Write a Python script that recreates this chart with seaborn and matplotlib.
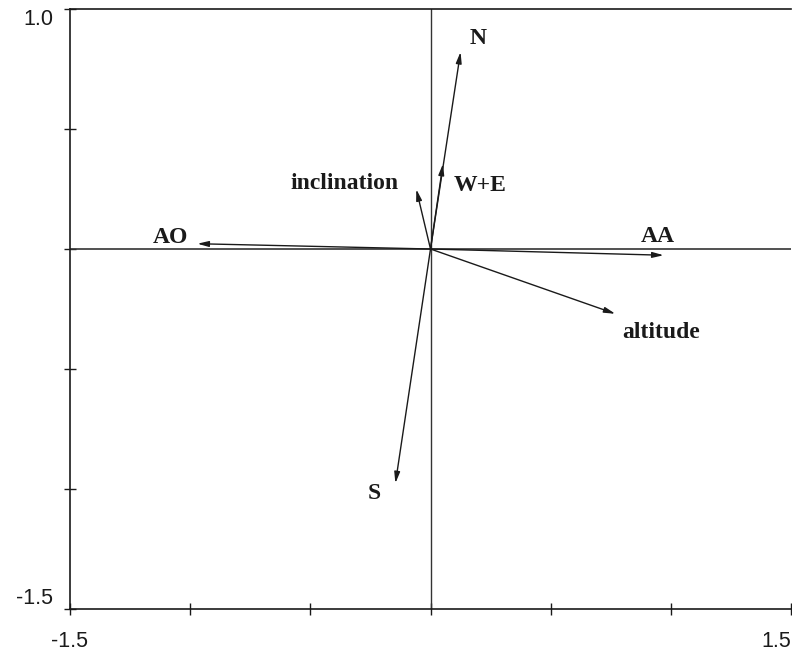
import matplotlib
matplotlib.use('Agg')
import matplotlib.pyplot as plt
import seaborn as sns

# biplot vectors (arrow tips) and where their labels sit
names = ['N', 'W+E', 'inclination', 'AO', 'AA', 'altitude', 'S']
vec_x = [0.125, 0.052, -0.059, -0.970, 0.970, 0.769, -0.146]
vec_y = [0.821, 0.355, 0.249, 0.022, -0.026, -0.270, -0.976]
lab_x = [0.20, 0.208, -0.357, -1.08, 0.946, 0.96, -0.235]
lab_y = [0.877, 0.264, 0.272, 0.047, 0.05, -0.35, -1.017]

x_ticks = [-1.5, -1.0, -0.5, 0.0, 0.5, 1.0, 1.5]
y_ticks = [-1.5, -1.0, -0.5, 0.0, 0.5, 1.0]

sns.set_theme(style='white')
plt.rcParams['font.family'] = ['Liberation Sans', 'DejaVu Sans']

fig = plt.figure(figsize=(7.92, 6.55), dpi=100)
ax = fig.add_axes([70 / 792, 1 - 609 / 655, 721 / 792, 600 / 655])

ax.set_xlim(-1.5, 1.5)
ax.set_ylim(-1.5, 1.0)

# cross through the origin
ax.axhline(0, color='#333333', lw=1.2, zorder=1)
ax.axvline(0, color='#333333', lw=1.0, zorder=1)

for name, x, y, lx, ly in zip(names, vec_x, vec_y, lab_x, lab_y):
    ax.annotate('', xy=(x, y), xytext=(0, 0),
                arrowprops=dict(arrowstyle='-|>,head_length=0.55,head_width=0.14',
                                color='#1a1a1a', lw=1.0, shrinkA=0, shrinkB=0))
    ax.text(lx, ly, name, ha='center', va='center', fontsize=17, fontweight='bold',
            family=['Liberation Serif', 'DejaVu Serif'], color='#1a1a1a')

ax.set_xticks(x_ticks)
ax.set_xticklabels(['-1.5', '', '', '', '', '', '1.5'])
ax.set_yticks(y_ticks)
ax.set_yticklabels(['-1.5', '', '', '', '', '1.0'])
xl = ax.get_xticklabels()
xl[-1].set_horizontalalignment('right')
yl = ax.get_yticklabels()
yl[0].set_verticalalignment('bottom')
yl[-1].set_verticalalignment('top')

ax.tick_params(axis='both', direction='inout', length=8, width=1, color='#1a1a1a',
               labelsize=15.5, labelcolor='#1a1a1a', bottom=True, left=True)
ax.tick_params(axis='x', pad=12)
ax.tick_params(axis='y', pad=8)

for side in ['left', 'bottom', 'top']:
    ax.spines[side].set_color('#1a1a1a')
    ax.spines[side].set_linewidth(1.2)
ax.spines['right'].set_visible(False)

fig.savefig('out.png', dpi=100)
